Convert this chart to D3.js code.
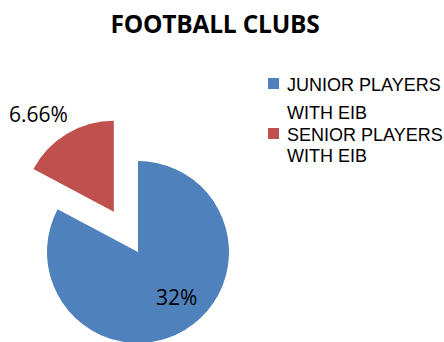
<!DOCTYPE html>
<html>
<head>
<meta charset="utf-8">
<script src="https://cdn.jsdelivr.net/npm/d3@7"></script>
<style>
  body { margin: 0; background: #fff; }
  text { font-family: "Open Sans", "DejaVu Sans", sans-serif; fill: #000; }
  .legend text { font-family: "Liberation Sans", Arial, sans-serif; }
</style>
</head>
<body>
<div id="chart"></div>
<script>
// Data
const categories = ["JUNIOR PLAYERS WITH EIB", "SENIOR PLAYERS WITH EIB"];
const legendLines = [["JUNIOR PLAYERS", "WITH EIB"], ["SENIOR PLAYERS", "WITH EIB"]];
const values = [32, 6.66];
const valueLabels = ["32%", "6.66%"];
const title = "FOOTBALL CLUBS";

const width = 444, height = 342;
const radius = 91;
const cx = 138, cy = 252;
const explode = [0, 47];

const color = d3.scaleOrdinal()
  .domain(categories)
  .range(["#4F81BD", "#C0504D"]);

const svg = d3.select("#chart")
  .append("svg")
  .attr("width", width)
  .attr("height", height);

// Title
svg.append("text")
  .attr("x", 215)
  .attr("y", 33)
  .attr("text-anchor", "middle")
  .attr("font-size", "24.5px")
  .attr("font-weight", "bold")
  .attr("letter-spacing", "-0.2px")
  .text(title);

const pie = d3.pie().sort(null).value(d => d);
const arcs = pie(values);
const arc = d3.arc().innerRadius(0).outerRadius(radius);

const slices = svg.append("g")
  .attr("transform", `translate(${cx},${cy})`);

// offset of each slice along its mid angle
function shift(d, i) {
  const a = (d.startAngle + d.endAngle) / 2;
  return [Math.sin(a) * explode[i], -Math.cos(a) * explode[i]];
}

slices.selectAll("path")
  .data(arcs)
  .enter()
  .append("path")
  .attr("d", arc)
  .attr("transform", (d, i) => `translate(${shift(d, i)})`)
  .style("fill", (d, i) => color(categories[i]));

// Data labels: inside for the big slice, outside for the small one
const labelRadius = [0.66, 1.35];
const labelTurn = [-0.16, -0.12];
slices.selectAll(".lbl")
  .data(arcs)
  .enter()
  .append("text")
  .attr("class", "lbl")
  .attr("font-size", "21px")
  .attr("text-anchor", "middle")
  .attr("dy", "0.35em")
  .attr("x", (d, i) => {
    const a = (d.startAngle + d.endAngle) / 2 + labelTurn[i];
    return shift(d, i)[0] + Math.sin(a) * radius * labelRadius[i];
  })
  .attr("y", (d, i) => {
    const a = (d.startAngle + d.endAngle) / 2 + labelTurn[i];
    return shift(d, i)[1] - Math.cos(a) * radius * labelRadius[i];
  })
  .text((d, i) => valueLabels[i]);

// Legend
const legendTop = [78, 128];
const lineGap = [28, 21];
const items = svg.append("g")
  .attr("class", "legend")
  .selectAll("g")
  .data(categories)
  .enter()
  .append("g")
  .attr("transform", (d, i) => `translate(268,${legendTop[i]})`);

items.append("rect")
  .attr("width", 11)
  .attr("height", 11)
  .style("fill", d => color(d));

items.each(function (d, i) {
  d3.select(this).selectAll("text")
    .data(legendLines[i])
    .enter()
    .append("text")
    .attr("x", 19)
    .attr("y", (t, j) => 13 + j * lineGap[i])
    .attr("font-size", "18px")
    .text(t => t);
});
</script>
</body>
</html>
